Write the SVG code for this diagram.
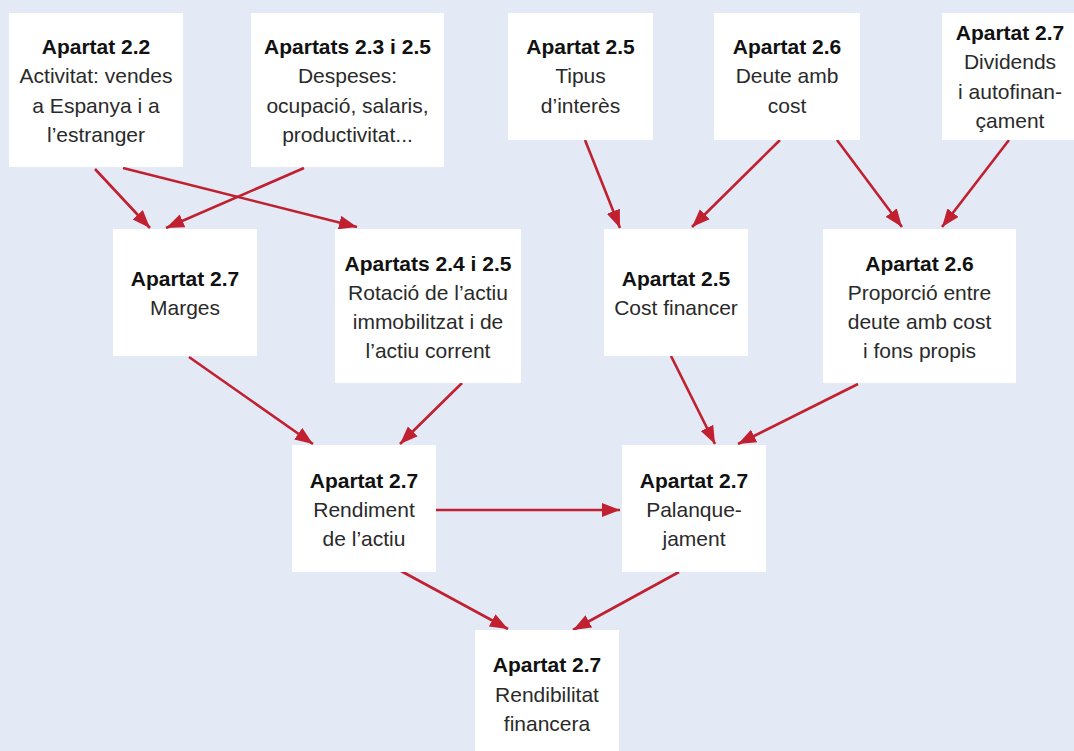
<svg xmlns="http://www.w3.org/2000/svg" width="1074" height="751" viewBox="0 0 1074 751">
<style>
.box{fill:#ffffff}
text{font-family:"Liberation Sans",Arial,sans-serif;font-size:21px;text-anchor:middle;fill:#2a2a2a}
.t{font-weight:bold;fill:#111}
.c line{stroke:#c0202f;stroke-width:2.6;fill:none;marker-end:url(#ah)}
</style>
<defs>
<marker id="ah" markerUnits="userSpaceOnUse" markerWidth="20" markerHeight="16" refX="18" refY="7" orient="auto">
<path d="M0,0 L18,7 L0,14 z" fill="#c0202f"/>
</marker>
</defs>
<rect x="0" y="0" width="1074" height="751" fill="#e3eaf6"/>
<g class="c">
<line x1="95" y1="169" x2="150" y2="228"/>
<line x1="123" y1="168" x2="357" y2="227"/>
<line x1="304" y1="168" x2="166" y2="228"/>
<line x1="585" y1="140" x2="620" y2="228"/>
<line x1="780" y1="140" x2="692" y2="227"/>
<line x1="837" y1="140" x2="902" y2="227"/>
<line x1="1009" y1="140" x2="942" y2="227"/>
<line x1="189" y1="357" x2="313" y2="444"/>
<line x1="462" y1="383" x2="400" y2="444"/>
<line x1="671" y1="356" x2="715" y2="444"/>
<line x1="858" y1="384" x2="738" y2="444"/>
<line x1="434" y1="510" x2="620" y2="510"/>
<line x1="401" y1="571" x2="508" y2="629"/>
<line x1="679" y1="572" x2="573" y2="630"/>
</g>
<g id="n1"><rect class="box" x="9" y="13" width="174" height="154"/>
<text class="t" x="96" y="54">Apartat 2.2</text><text x="96" y="83">Activitat: vendes</text><text x="96" y="113">a Espanya i a</text><text x="96" y="142">l’estranger</text></g>
<g id="n2"><rect class="box" x="251" y="13" width="193" height="154"/>
<text class="t" x="347.5" y="54">Apartats 2.3 i 2.5</text><text x="347.5" y="83">Despeses:</text><text x="347.5" y="113">ocupació, salaris,</text><text x="347.5" y="142">productivitat...</text></g>
<g id="n3"><rect class="box" x="508" y="13" width="145" height="127"/>
<text class="t" x="580.5" y="54">Apartat 2.5</text><text x="580.5" y="83">Tipus</text><text x="580.5" y="113">d’interès</text></g>
<g id="n4"><rect class="box" x="714" y="13" width="146" height="127"/>
<text class="t" x="787" y="54">Apartat 2.6</text><text x="787" y="83">Deute amb</text><text x="787" y="113">cost</text></g>
<g id="n5"><rect class="box" x="942" y="13" width="132" height="127"/>
<text class="t" x="1010" y="40">Apartat 2.7</text><text x="1010" y="69">Dividends</text><text x="1010" y="99">i autofinan-</text><text x="1010" y="128">çament</text></g>
<g id="n6"><rect class="box" x="113" y="229" width="144" height="127"/>
<text class="t" x="185" y="286">Apartat 2.7</text><text x="185" y="315">Marges</text></g>
<g id="n7"><rect class="box" x="335" y="229" width="186" height="154"/>
<text class="t" x="428" y="271">Apartats 2.4 i 2.5</text><text x="428" y="300">Rotació de l’actiu</text><text x="428" y="329">immobilitzat i de</text><text x="428" y="358">l’actiu corrent</text></g>
<g id="n8"><rect class="box" x="604" y="229" width="144" height="127"/>
<text class="t" x="676" y="286">Apartat 2.5</text><text x="676" y="315">Cost financer</text></g>
<g id="n9"><rect class="box" x="823" y="229" width="193" height="154"/>
<text class="t" x="919.5" y="271">Apartat 2.6</text><text x="919.5" y="300">Proporció entre</text><text x="919.5" y="329">deute amb cost</text><text x="919.5" y="358">i fons propis</text></g>
<g id="n10"><rect class="box" x="292" y="445" width="144" height="127"/>
<text class="t" x="364" y="488">Apartat 2.7</text><text x="364" y="517">Rendiment</text><text x="364" y="546">de l’actiu</text></g>
<g id="n11"><rect class="box" x="622" y="445" width="144" height="127"/>
<text class="t" x="694" y="488">Apartat 2.7</text><text x="694" y="517">Palanque-</text><text x="694" y="546">jament</text></g>
<g id="n12"><rect class="box" x="475" y="630" width="144" height="121"/>
<text class="t" x="547" y="672">Apartat 2.7</text><text x="547" y="702">Rendibilitat</text><text x="547" y="731">financera</text></g>
</svg>
